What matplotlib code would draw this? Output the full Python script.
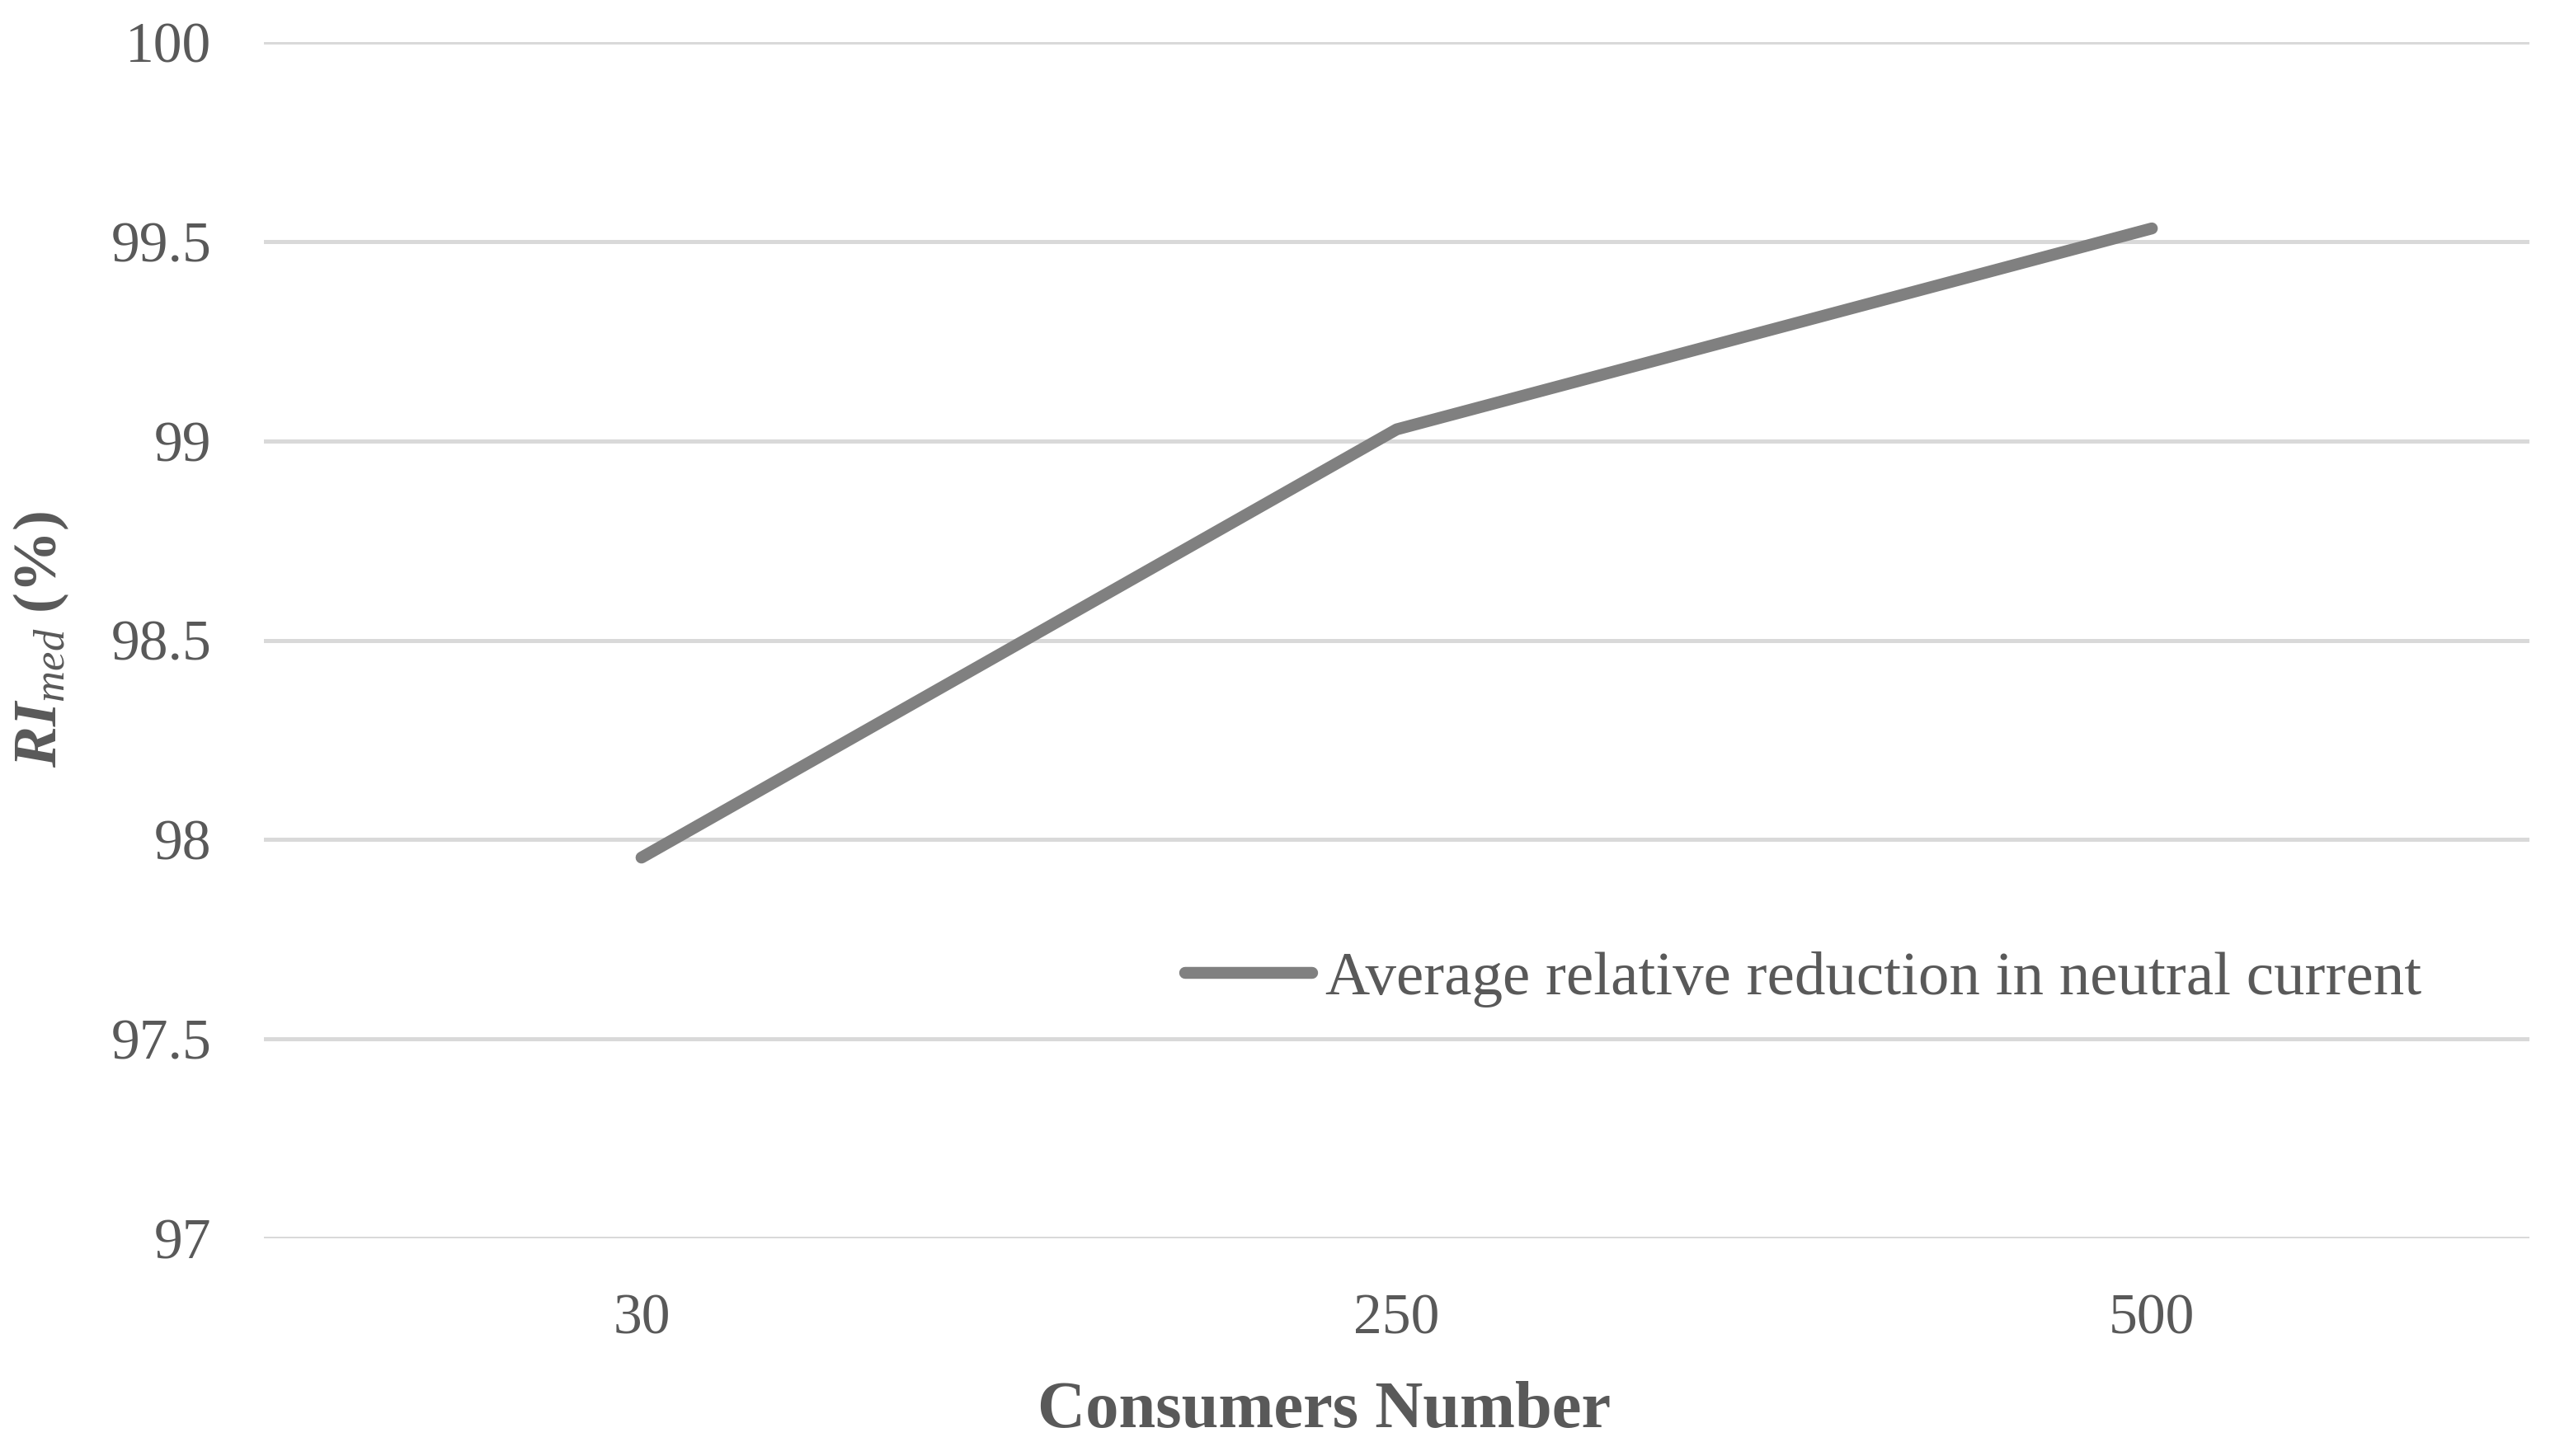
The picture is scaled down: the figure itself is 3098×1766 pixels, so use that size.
import matplotlib
matplotlib.use("Agg")
import matplotlib.pyplot as plt

categories = ["30", "250", "500"]
values = [97.955, 99.029, 99.533]
series_name = "Average relative reduction in neutral current"
yticks = [97, 97.5, 98, 98.5, 99, 99.5, 100]
ytick_labels = ["97", "97.5", "98", "98.5", "99", "99.5", "100"]

TXT = "#595959"
plt.rcParams['font.family'] = ['Liberation Serif', 'DejaVu Serif']
plt.rcParams['mathtext.fontset'] = 'custom'
plt.rcParams['mathtext.it'] = 'Liberation Serif:italic'
plt.rcParams['mathtext.rm'] = 'Liberation Serif'
plt.rcParams['mathtext.bf'] = 'Liberation Serif:bold'
plt.rcParams['mathtext.bfit'] = 'Liberation Serif:italic:bold'

fig = plt.figure(figsize=(15.49, 8.83), dpi=200)
ax = fig.add_axes([0.1033, 0.1495, 0.8867, 0.8215])

x = list(range(len(categories)))
ax.plot(x, values, color="#808080", lw=5.2, solid_capstyle="round",
        solid_joinstyle="round", label=series_name, zorder=3)

ax.set_xlim(-0.5, len(categories) - 0.5)
ax.set_ylim(97, 100)
ax.set_yticks(yticks)
ax.set_yticklabels(ytick_labels)
ax.set_xticks(x)
ax.set_xticklabels(categories)
ax.grid(axis="y", color="#d9d9d9", lw=1.8, zorder=0)
ax.set_axisbelow(True)
for s in ax.spines.values():
    s.set_visible(False)
ax.tick_params(length=0, labelsize=25, colors=TXT)
ax.tick_params(axis="y", pad=23)
ax.tick_params(axis="x", pad=24)
for lab in ax.get_yticklabels():
    lab.set_color(TXT)

fig.text(1606 / 3098, 1 - 1712 / 1766, "Consumers Number",
         ha="center", va="center", fontsize=29, fontweight="bold", color=TXT)
fig.text(50 / 3098, 1 - 775 / 1766, r"$\mathbfit{RI}_{\mathit{med}}$ (%)",
         ha="center", va="center", rotation=90, fontsize=27,
         fontweight="bold", color=TXT)

leg = ax.legend(loc="center left", bbox_to_anchor=(0.4066, 0.2165),
                frameon=False, fontsize=27, handlelength=2.05,
                handletextpad=0.22, borderpad=0, borderaxespad=0)
for t in leg.get_texts():
    t.set_color(TXT)

fig.savefig("out.png", dpi=200, facecolor="white")
